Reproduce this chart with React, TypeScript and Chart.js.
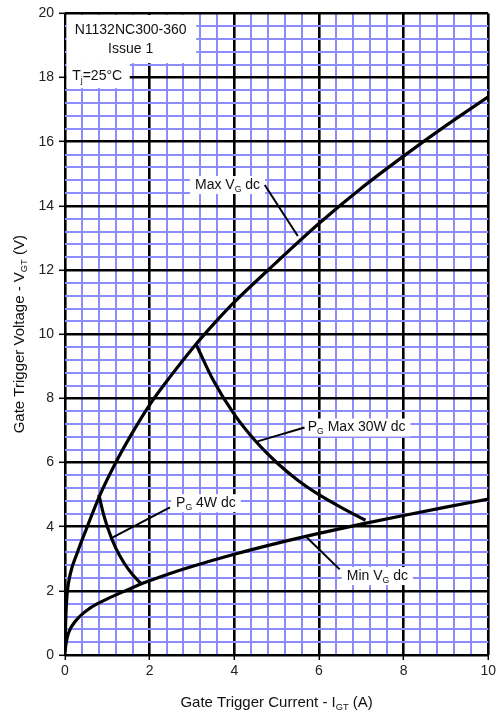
import React, { useEffect, useRef } from 'react';
import { Chart, registerables } from 'chart.js';

Chart.register(...registerables);

// Max VG dc
const maxIgt = [0, 0.02, 0.05, 0.12, 0.28, 0.52, 0.82, 1.2, 1.58, 2.0, 2.5, 3.07, 3.5, 4.0, 4.8, 6.0, 7.0, 8.0, 9.0, 10.0];
const maxVgt = [0.3, 1.2, 1.9, 2.5, 3.15, 3.98, 4.97, 6.0, 6.9, 7.8, 8.7, 9.65, 10.3, 11.0, 12.0, 13.45, 14.55, 15.55, 16.5, 17.4];

// Min VG dc
const minIgt = [0, 0.03, 0.08, 0.27, 0.59, 1.0, 1.46, 1.93, 2.5, 3.0, 4.0, 5.0, 6.0, 7.0, 8.0, 9.0, 10.0];
const minVgt = [0.1, 0.4, 0.68, 1.09, 1.46, 1.75, 2.02, 2.28, 2.55, 2.76, 3.14, 3.48, 3.79, 4.08, 4.35, 4.61, 4.86];

// PG 4W dc
const pg4Igt = [0.8, 0.9, 1.0, 1.2, 1.4, 1.6, 1.8];
const pg4Vgt = [5.0, 4.44, 4.0, 3.33, 2.86, 2.5, 2.22];

// PG Max 30W dc
const pg30Igt = [3.1, 3.5, 4.0, 4.5, 5.0, 5.5, 6.0, 6.5, 7.1];
const pg30Vgt = [9.68, 8.57, 7.5, 6.67, 6.0, 5.45, 5.0, 4.62, 4.2];

const xTickLabels = ['0', '2', '4', '6', '8', '10'];
const yTickLabels = ['0', '2', '4', '6', '8', '10', '12', '14', '16', '18', '20'];

const FONT = '"Liberation Sans", Arial, sans-serif';

type Part = { t: string; sub?: boolean };

const richWidth = (ctx: CanvasRenderingContext2D, parts: Part[], size: number) => {
    let w = 0;
    parts.forEach(p => {
        ctx.font = `${p.sub ? size * 0.62 : size}px ${FONT}`;
        w += ctx.measureText(p.t).width;
    });
    return w;
};

const drawRich = (ctx: CanvasRenderingContext2D, parts: Part[], x: number, y: number, size: number, align: 'left' | 'center') => {
    const w = richWidth(ctx, parts, size);
    let cx = align === 'center' ? x - w / 2 : x;
    ctx.textBaseline = 'middle';
    ctx.textAlign = 'left';
    ctx.fillStyle = '#111';
    parts.forEach(p => {
        ctx.font = `${p.sub ? size * 0.62 : size}px ${FONT}`;
        ctx.fillText(p.t, cx, p.sub ? y + size * 0.3 : y);
        cx += ctx.measureText(p.t).width;
    });
    return w;
};

const isMajor = (v: number) => Math.abs(v / 2 - Math.round(v / 2)) < 1e-6;

const labels = [
    { parts: [{ t: 'Max V' }, { t: 'G', sub: true }, { t: ' dc' }], x: 3.84, y: 14.65, from: [4.72, 14.65], to: [5.5, 13.06] },
    { parts: [{ t: 'P' }, { t: 'G', sub: true }, { t: ' Max 30W dc' }], x: 6.89, y: 7.09, from: [5.66, 7.09], to: [4.55, 6.66] },
    { parts: [{ t: 'P' }, { t: 'G', sub: true }, { t: ' 4W dc' }], x: 3.33, y: 4.73, from: [2.48, 4.6], to: [1.13, 3.67] },
    { parts: [{ t: 'Min V' }, { t: 'G', sub: true }, { t: ' dc' }], x: 7.38, y: 2.46, from: [6.49, 2.67], to: [5.71, 3.67] },
];

const annotationPlugin = {
    id: 'gateAnnotations',
    beforeDatasetsDraw(chart: any) {
        const ctx: CanvasRenderingContext2D = chart.ctx;
        const xs = chart.scales.x;
        const ys = chart.scales.y;
        const px = (v: number) => xs.getPixelForValue(v);
        const py = (v: number) => ys.getPixelForValue(v);
        ctx.save();
        // header boxes top-left
        ctx.fillStyle = '#fff';
        ctx.fillRect(px(0) + 1.5, py(19.95), px(3.1) - px(0) - 1.5, py(18.45) - py(19.95));
        ctx.fillRect(px(0) + 1.5, py(18.45), px(1.53) - px(0) - 1.5, py(17.67) - py(18.45));
        drawRich(ctx, [{ t: 'N1132NC300-360' }], px(1.55), py(19.47), 14, 'center');
        drawRich(ctx, [{ t: 'Issue 1' }], px(1.55), py(18.88), 14, 'center');
        drawRich(ctx, [{ t: 'T' }, { t: 'j', sub: true }, { t: '=25°C' }], px(0.17), py(18.03), 14, 'left');

        labels.forEach(l => {
            const w = richWidth(ctx, l.parts, 14);
            const cx = px(l.x);
            const cy = py(l.y);
            ctx.fillStyle = '#fff';
            ctx.fillRect(cx - w / 2 - 5, cy - 9, w + 10, 18);
            drawRich(ctx, l.parts, cx, cy, 14, 'center');
            ctx.strokeStyle = '#000';
            ctx.lineWidth = 2;
            ctx.beginPath();
            ctx.moveTo(px(l.from[0]), py(l.from[1]));
            ctx.lineTo(px(l.to[0]), py(l.to[1]));
            ctx.stroke();
        });
        ctx.restore();
    },
    afterDraw(chart: any) {
        const ctx: CanvasRenderingContext2D = chart.ctx;
        const area = chart.chartArea;
        ctx.save();
        drawRich(ctx, [{ t: 'Gate Trigger Current - I' }, { t: 'GT', sub: true }, { t: ' (A)' }], (area.left + area.right) / 2, 703, 15, 'center');
        ctx.translate(20, (area.top + area.bottom) / 2);
        ctx.rotate(-Math.PI / 2);
        drawRich(ctx, [{ t: 'Gate Trigger Voltage - V' }, { t: 'GT', sub: true }, { t: ' (V)' }], 0, 0, 15, 'center');
        ctx.restore();
    },
};

const App: React.FC = () => {
    const canvasRef = useRef<HTMLCanvasElement>(null);
    const chartInstance = useRef<Chart | null>(null);

    useEffect(() => {
        document.body.style.margin = '0';
        if (!canvasRef.current) return;
        const ctx = canvasRef.current.getContext('2d');
        if (!ctx) return;

        const toPoints = (xs: number[], ys: number[]) => xs.map((x, i) => ({ x, y: ys[i] }));
        const line = (data: { x: number; y: number }[]) => ({
            data,
            showLine: true,
            borderColor: '#000',
            borderWidth: 3.2,
            pointRadius: 0,
            cubicInterpolationMode: 'monotone' as const,
        });

        chartInstance.current = new Chart(ctx, {
            type: 'scatter',
            data: {
                datasets: [
                    line(toPoints(maxIgt, maxVgt)),
                    line(toPoints(minIgt, minVgt)),
                    line(toPoints(pg4Igt, pg4Vgt)),
                    line(toPoints(pg30Igt, pg30Vgt)),
                ],
            },
            options: {
                responsive: false,
                animation: false,
                layout: { padding: { top: 12, right: 10, left: 0, bottom: 0 } },
                plugins: { legend: { display: false }, tooltip: { enabled: false } },
                scales: {
                    x: {
                        type: 'linear',
                        min: 0,
                        max: 10,
                        afterFit: (s: any) => { s.height = 61; },
                        border: { display: false },
                        grid: {
                            color: (c: any) => (isMajor(c.tick.value) ? '#000' : '#8c8cff'),
                            lineWidth: (c: any) => (isMajor(c.tick.value) ? 2.6 : 2),
                            tickColor: (c: any) => (isMajor(c.tick.value) ? '#000' : 'rgba(0,0,0,0)'),
                            tickLength: 5,
                            tickWidth: 1.5,
                        },
                        ticks: {
                            stepSize: 0.4,
                            autoSkip: false,
                            maxRotation: 0,
                            padding: 3,
                            color: '#222',
                            font: { family: FONT, size: 14 },
                            callback: (v: any) => (isMajor(Number(v)) ? xTickLabels[Math.round(Number(v) / 2)] : ''),
                        },
                    },
                    y: {
                        type: 'linear',
                        min: 0,
                        max: 20,
                        afterFit: (s: any) => { s.width = 65; },
                        border: { display: false },
                        grid: {
                            color: (c: any) => (isMajor(c.tick.value) ? '#000' : '#8c8cff'),
                            lineWidth: (c: any) => (isMajor(c.tick.value) ? 2.6 : 2),
                            tickColor: (c: any) => (isMajor(c.tick.value) ? '#000' : 'rgba(0,0,0,0)'),
                            tickLength: 6,
                            tickWidth: 1.5,
                        },
                        ticks: {
                            stepSize: 0.4,
                            autoSkip: false,
                            padding: 5,
                            color: '#222',
                            font: { family: FONT, size: 14 },
                            callback: (v: any) => (isMajor(Number(v)) ? yTickLabels[Math.round(Number(v) / 2)] : ''),
                        },
                    },
                },
            },
            plugins: [annotationPlugin],
        });

        return () => {
            if (chartInstance.current) chartInstance.current.destroy();
        };
    }, []);

    return (
        <div style={{ width: 499, height: 716, background: '#fff' }}>
            <canvas ref={canvasRef} width={499} height={716}></canvas>
        </div>
    );
};

export default App;
